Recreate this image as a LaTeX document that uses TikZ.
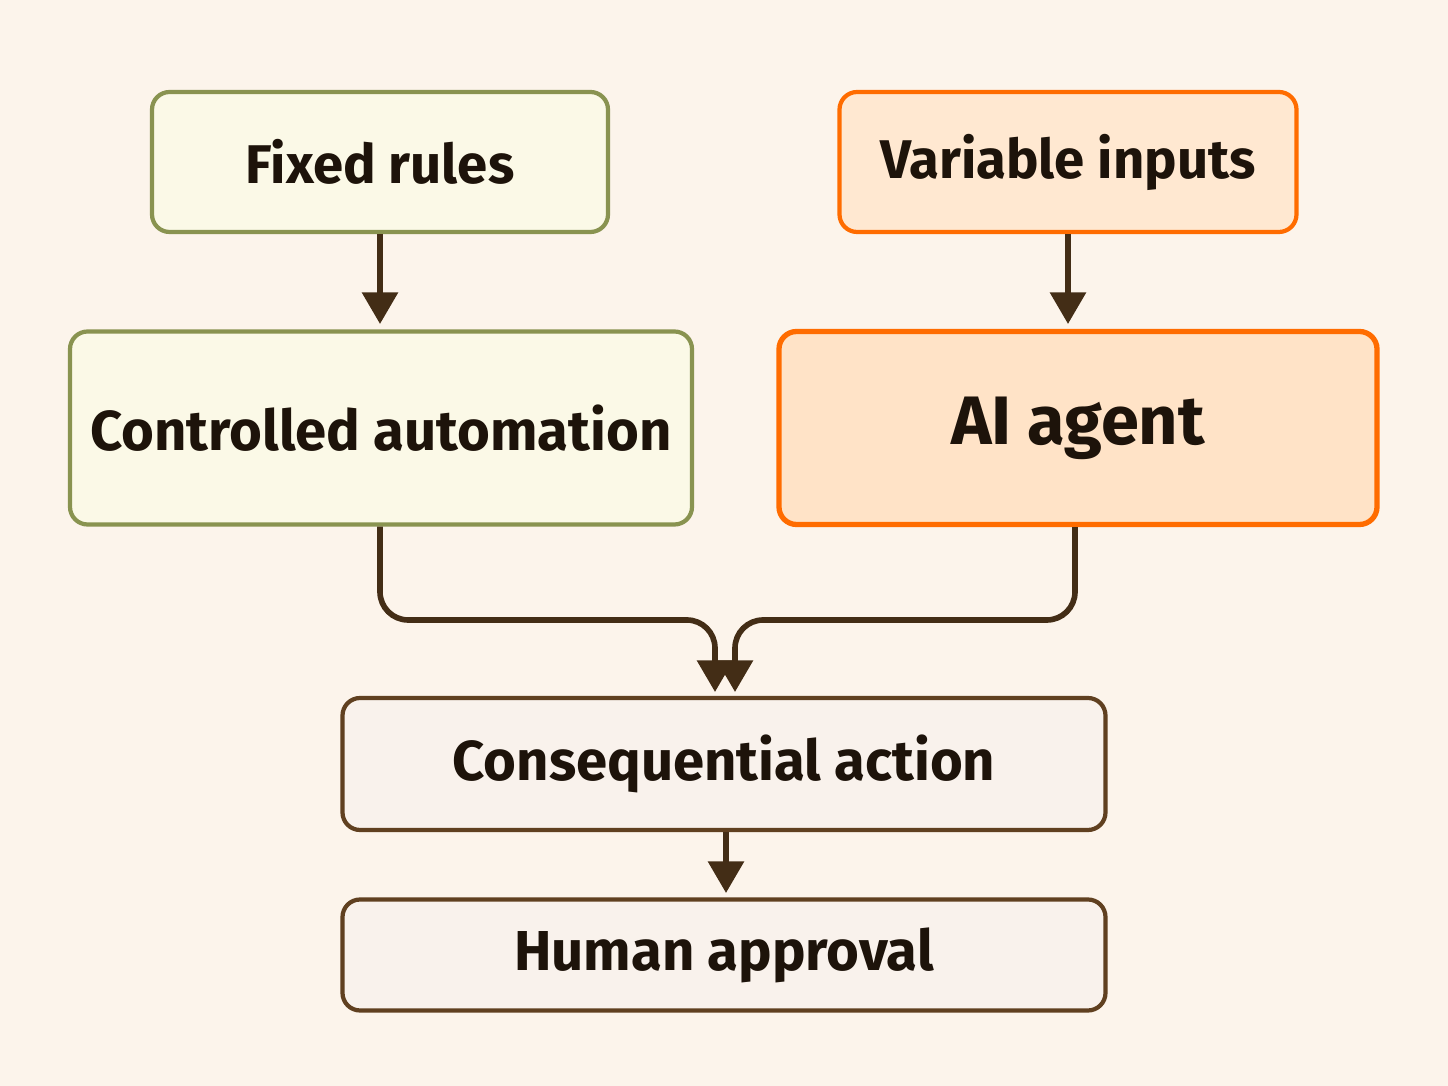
\documentclass[tikz,border=0pt]{standalone}
\usepackage{fontspec}
\setmainfont{Fira Sans}
\usetikzlibrary{arrows.meta}
\begin{document}
\begin{tikzpicture}[x=0.01cm,y=-0.01cm,
 box/.style={draw,line width=1.2pt,rounded corners=5pt,inner sep=0pt,font=\fontsize{15.5}{18}\selectfont\bfseries,text=black!85!brown},
 grn/.style={box,draw=green!25!brown!60!gray,fill=green!6!yellow!6!white!95!brown},
 org/.style={box,draw=orange!85!red,fill=orange!18!white},
 brn/.style={box,draw=brown!50!black,fill=brown!10!white},
 arr/.style={draw=brown!35!black,line width=1.6pt,-{Triangle[length=9pt,width=10pt]},rounded corners=8pt}]
\fill[orange!5!white!96!brown] (0,0) rectangle (1448,1086);
\path[use as bounding box] (0,0) rectangle (1448,1086);
\node[grn,minimum width=456*0.01cm,minimum height=140*0.01cm] (fr) at (380,162) {Fixed rules};
\node[org,minimum width=457*0.01cm,minimum height=140*0.01cm] (vi) at (1068,162) {Variable inputs};
\node[grn,minimum width=622*0.01cm,minimum height=193*0.01cm,font=\fontsize{16}{20}\selectfont\bfseries] (ca) at (381,428) {Controlled automation};
\node[org,minimum width=598*0.01cm,minimum height=193*0.01cm,fill=orange!22!white,line width=1.5pt,font=\fontsize{19.5}{24}\selectfont\bfseries] (ai) at (1078,428) {AI agent};
\node[brn,minimum width=763*0.01cm,minimum height=132*0.01cm,font=\fontsize{16}{20}\selectfont\bfseries] (cq) at (724,764) {Consequential action};
\node[brn,minimum width=763*0.01cm,minimum height=111*0.01cm,font=\fontsize{16}{20}\selectfont\bfseries] (ha) at (724,955) {Human approval};
\draw[arr] (fr) -- (fr.south |- 0,324);
\draw[arr] (vi) -- (vi.south |- 0,324);
\draw[arr] (ca.south -| 380,0) -- (380,620) -- (715,620) -- (715,692);
\draw[arr] (ai.south -| 1075,0) -- (1075,620) -- (735,620) -- (735,692);
\draw[arr] (cq.south -| 726,0) -- (726,893);
\end{tikzpicture}
\end{document}
